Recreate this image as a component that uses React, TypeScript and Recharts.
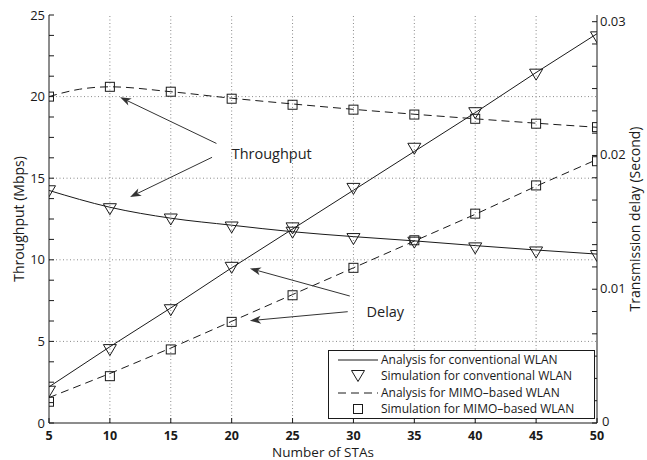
import React from 'react';
import { LineChart, Line, XAxis, YAxis, ReferenceLine, ReferenceDot, Legend } from 'recharts';

// ---- data ----
const stas = [5, 10, 15, 20, 25, 30, 35, 40, 45, 50];
const thrConvAnalysis = [14.25, 13.22, 12.55, 12.12, 11.72, 11.42, 11.16, 10.87, 10.6, 10.35];
const thrConvSim = [14.2, 13.1, 12.47, 11.98, 11.66, 11.27, 11.05, 10.7, 10.45, 10.23];
const thrMimoAnalysisX = [5, 7.5, 10, 15, 20, 25, 30, 35, 40, 45, 50];
const thrMimoAnalysis = [20.0, 20.45, 20.6, 20.3, 19.9, 19.55, 19.22, 18.92, 18.64, 18.37, 18.12];
const thrMimoSim = [20.0, 20.6, 20.3, 19.87, 19.5, 19.2, 18.9, 18.64, 18.34, 18.13];
const delayConvAnalysis = [0.0027, 0.0057, 0.0086, 0.0116, 0.0145, 0.0174, 0.0203, 0.0232, 0.0262, 0.0291];
const delayConvSim = [0.00234, 0.00545, 0.00843, 0.0116, 0.01455, 0.0175, 0.0205, 0.02316, 0.02604, 0.02883];
const delayMimoAnalysis = [0.0019, 0.0037, 0.0056, 0.0076, 0.0096, 0.0116, 0.0136, 0.0156, 0.0177, 0.0197];
const delayMimoSim = [0.00159, 0.0035, 0.0055, 0.00756, 0.00955, 0.0116, 0.01366, 0.01565, 0.01776, 0.01957];

const leftTicks = [0, 1.25, 2.5, 3.75, 5, 6.25, 7.5, 8.75, 10, 11.25, 12.5, 13.75, 15, 16.25, 17.5, 18.75, 20, 21.25, 22.5, 23.75, 25];
const leftMajorTicks = [0, 5, 10, 15, 20, 25];
const rightMajorTicks = [0, 0.01, 0.02, 0.03];
const rightTickLabels = ['0', '0.01', '0.02', '0.03'];
const rightMinorPerMajor = 6;
const rightTicks = Array.from({ length: 19 }, (_, k) => k * 0.01 / rightMinorPerMajor);
const gridX = [10, 15, 20, 25, 30, 35, 40, 45];
const gridY = [5, 10, 15, 20];

const legendLabels = [
  'Analysis for conventional WLAN',
  'Simulation for conventional WLAN',
  'Analysis for MIMO\u2013based WLAN',
  'Simulation for MIMO\u2013based WLAN',
];

// annotation arrows (data coords on left axis): [from, to]
const throughputArrows = [
  [{ x: 18.75, y: 17.13 }, { x: 10.84, y: 19.96 }],
  [{ x: 18.39, y: 16.28 }, { x: 11.66, y: 13.85 }],
];
const delayArrows = [
  [{ x: 29.7, y: 7.78 }, { x: 21.5, y: 9.47 }],
  [{ x: 29.53, y: 6.82 }, { x: 21.5, y: 6.27 }],
];
const throughputLabelPos = { x: 20.0, y: 16.5 };
const delayLabelPos = { x: 31.07, y: 6.82 };

const toPts = (xs: number[], ys: number[]) => xs.map((x, i) => ({ x, y: ys[i] }));

const INK = '#1a1a1a';
const FONT = '"Open Sans", "Noto Sans", sans-serif';

const Tri = ({ cx, cy }: any) => (
  <polygon
    points={`${cx - 6.5},${cy - 5.5} ${cx + 6.5},${cy - 5.5} ${cx},${cy + 5.5}`}
    fill="none"
    stroke={INK}
    strokeWidth={1}
  />
);
const Sq = ({ cx, cy }: any) => (
  <rect x={cx - 4.5} y={cy - 4.5} width={9} height={9} fill="none" stroke={INK} strokeWidth={1} />
);

const triDot = (p: any) => {
  if (p.cx == null || p.cy == null) return <g key={p.index} />;
  return <Tri key={p.index} cx={p.cx} cy={p.cy} />;
};
const sqDot = (p: any) => {
  if (p.cx == null || p.cy == null) return <g key={p.index} />;
  return <Sq key={p.index} cx={p.cx} cy={p.cy} />;
};

const Arrow = (p: any) => {
  const { x1, y1, x2, y2 } = p;
  if ([x1, y1, x2, y2].some((v) => v == null || isNaN(v))) return <g />;
  const dx = x2 - x1;
  const dy = y2 - y1;
  const L = Math.hypot(dx, dy) || 1;
  const ux = dx / L;
  const uy = dy / L;
  const nx = -uy;
  const ny = ux;
  const len = 11;
  const half = 4;
  const notch = 3;
  const bx = x2 - ux * len;
  const by = y2 - uy * len;
  const mx = x2 - ux * (len - notch);
  const my = y2 - uy * (len - notch);
  const pts = `${x2},${y2} ${bx + nx * half},${by + ny * half} ${mx},${my} ${bx - nx * half},${by - ny * half}`;
  return (
    <g>
      <line x1={x1} y1={y1} x2={mx} y2={my} stroke="#333" strokeWidth={1} />
      <polygon points={pts} fill="#333" stroke="none" />
    </g>
  );
};

const LeftTick = (p: any) => {
  const { x, y, payload } = p;
  const v = payload.value;
  const idx = leftMajorTicks.findIndex((m) => Math.abs(m - v) < 1e-6);
  return (
    <g>
      <line x1={x} y1={y} x2={x + 5} y2={y} stroke={INK} strokeWidth={1} />
      {idx >= 0 && (
        <text x={x - 4} y={y} dy={4.5} textAnchor="end" fontSize={13} fill={INK} fontFamily={FONT}>
          {String(leftMajorTicks[idx])}
        </text>
      )}
    </g>
  );
};

const RightTick = (p: any) => {
  const { x, y, payload } = p;
  const v = payload.value;
  const idx = rightMajorTicks.findIndex((m) => Math.abs(m - v) < 1e-9);
  return (
    <g>
      <line x1={x} y1={y} x2={x - 5} y2={y} stroke={INK} strokeWidth={1} />
      {idx >= 0 && (
        <text x={idx === 0 ? x + 5 : x + 3} y={y} dy={idx === 0 ? 2.5 : 4} textAnchor="start" fontSize={13} fill={INK} fontFamily={FONT}>
          {rightTickLabels[idx]}
        </text>
      )}
    </g>
  );
};

const BottomTick = (p: any) => {
  const { x, y, payload } = p;
  return (
    <g>
      <line x1={x} y1={y} x2={x} y2={y - 5} stroke={INK} strokeWidth={1} />
      <text x={x} y={y + 17} textAnchor="middle" fontSize={12.5} fontWeight="bold" fill={INK} fontFamily={FONT}>
        {String(payload.value)}
      </text>
    </g>
  );
};

const TopTick = (p: any) => {
  const { x, y } = p;
  return <line x1={x} y1={y} x2={x} y2={y + 5} stroke={INK} strokeWidth={1} />;
};

const LegendBox = () => {
  const rows = [
    { kind: 'solid', label: legendLabels[0] },
    { kind: 'tri', label: legendLabels[1] },
    { kind: 'dash', label: legendLabels[2] },
    { kind: 'sq', label: legendLabels[3] },
  ];
  return (
    <div
      style={{
        border: `1px solid ${INK}`,
        background: '#fff',
        width: 265,
        height: 66,
        boxSizing: 'content-box',
        fontFamily: FONT,
        fontSize: 12,
        color: INK,
        paddingTop: 1,
      }}
    >
      {rows.map((r, i) => (
        <div key={i} style={{ display: 'flex', alignItems: 'center', height: 16.3, lineHeight: '16px' }}>
          <svg width={52} height={16} style={{ flex: 'none' }}>
            {r.kind === 'solid' && <line x1={9} y1={8} x2={49} y2={8} stroke={INK} strokeWidth={1} />}
            {r.kind === 'dash' && (
              <line x1={9} y1={8} x2={49} y2={8} stroke={INK} strokeWidth={1} strokeDasharray="8 5" />
            )}
            {r.kind === 'tri' && <Tri cx={29} cy={8} />}
            {r.kind === 'sq' && <Sq cx={29} cy={8} />}
          </svg>
          <span style={{ whiteSpace: 'nowrap', marginLeft: 0 }}>{r.label}</span>
        </div>
      ))}
    </div>
  );
};

const leftTitle = (p: any) => {
  const vb = p && p.viewBox ? p.viewBox : { x: 0, y: 15, width: 49, height: 408 };
  const cx = vb.x + 18;
  const cy = vb.y + vb.height / 2;
  return (
    <text x={cx} y={cy} transform={`rotate(-90, ${cx}, ${cy})`} textAnchor="middle" dominantBaseline="central" fontSize={14} fill={INK} fontFamily={FONT}>
      Throughput (Mbps)
    </text>
  );
};
const rightTitle = (p: any) => {
  const vb = p && p.viewBox ? p.viewBox : { x: 597, y: 15, width: 50, height: 408 };
  const cx = vb.x + 37;
  const cy = vb.y + vb.height / 2;
  return (
    <text x={cx} y={cy} transform={`rotate(-90, ${cx}, ${cy})`} textAnchor="middle" dominantBaseline="central" fontSize={14} fill={INK} fontFamily={FONT}>
      Transmission delay (Second)
    </text>
  );
};
const bottomTitle = (p: any) => {
  const vb = p && p.viewBox ? p.viewBox : { x: 49, y: 423, width: 548, height: 37 };
  return (
    <text x={vb.x + vb.width / 2} y={vb.y + 34} textAnchor="middle" fontSize={13.5} fill={INK} fontFamily={FONT}>
      Number of STAs
    </text>
  );
};

export default function App() {
  return (
    <div style={{ position: 'absolute', left: 0, top: 0, background: '#fff', fontFamily: FONT }}>
      <LineChart width={647} height={460} margin={{ top: 15, right: 0, bottom: 0, left: 0 }}>
        <XAxis
          dataKey="x"
          type="number"
          domain={[5, 50]}
          ticks={stas}
          interval={0}
          height={37}
          tickSize={0}
          tickMargin={0}
          tickLine={false}
          tick={BottomTick}
          axisLine={{ stroke: INK, strokeWidth: 1 }}
          allowDataOverflow
          label={bottomTitle}
        />
        <XAxis
          xAxisId="top"
          orientation="top"
          dataKey="x"
          type="number"
          domain={[5, 50]}
          ticks={stas}
          interval={0}
          height={0}
          tickSize={0}
          tickMargin={0}
          tickLine={false}
          tick={TopTick}
          axisLine={{ stroke: INK, strokeWidth: 1 }}
          allowDataOverflow
        />
        <YAxis
          yAxisId="left"
          orientation="left"
          type="number"
          domain={[0, 25]}
          ticks={leftTicks}
          interval={0}
          width={49}
          tickSize={0}
          tickMargin={0}
          tickLine={false}
          tick={LeftTick}
          axisLine={{ stroke: INK, strokeWidth: 1 }}
          allowDataOverflow
          label={leftTitle}
        />
        <YAxis
          yAxisId="right"
          orientation="right"
          type="number"
          domain={[0, 0.0305]}
          ticks={rightTicks}
          interval={0}
          width={50}
          tickSize={0}
          tickMargin={0}
          tickLine={false}
          tick={RightTick}
          axisLine={{ stroke: INK, strokeWidth: 1 }}
          allowDataOverflow
          label={rightTitle}
        />

        {gridX.map((v) => (
          <ReferenceLine key={`gx${v}`} x={v} yAxisId="left" stroke="#8a8a8a" strokeWidth={1} strokeDasharray="1 2.5" />
        ))}
        {gridY.map((v) => (
          <ReferenceLine key={`gy${v}`} y={v} yAxisId="left" stroke="#8a8a8a" strokeWidth={1} strokeDasharray="1 2.5" />
        ))}

        <Line
          yAxisId="left"
          data={toPts(stas, thrConvAnalysis)}
          dataKey="y"
          type="monotone"
          stroke={INK}
          strokeWidth={1}
          dot={false}
          activeDot={false}
          isAnimationActive={false}
        />
        <Line
          yAxisId="left"
          data={toPts(stas, thrConvSim)}
          dataKey="y"
          stroke="none"
          dot={triDot}
          activeDot={false}
          isAnimationActive={false}
        />
        <Line
          yAxisId="left"
          data={toPts(thrMimoAnalysisX, thrMimoAnalysis)}
          dataKey="y"
          type="monotone"
          stroke={INK}
          strokeWidth={1}
          strokeDasharray="8 5"
          dot={false}
          activeDot={false}
          isAnimationActive={false}
        />
        <Line
          yAxisId="left"
          data={toPts(stas, thrMimoSim)}
          dataKey="y"
          stroke="none"
          dot={sqDot}
          activeDot={false}
          isAnimationActive={false}
        />
        <Line
          yAxisId="right"
          data={toPts(stas, delayConvAnalysis)}
          dataKey="y"
          type="linear"
          stroke={INK}
          strokeWidth={1}
          dot={false}
          activeDot={false}
          isAnimationActive={false}
        />
        <Line
          yAxisId="right"
          data={toPts(stas, delayConvSim)}
          dataKey="y"
          stroke="none"
          dot={triDot}
          activeDot={false}
          isAnimationActive={false}
        />
        <Line
          yAxisId="right"
          data={toPts(stas, delayMimoAnalysis)}
          dataKey="y"
          type="linear"
          stroke={INK}
          strokeWidth={1}
          strokeDasharray="8 5"
          dot={false}
          activeDot={false}
          isAnimationActive={false}
        />
        <Line
          yAxisId="right"
          data={toPts(stas, delayMimoSim)}
          dataKey="y"
          stroke="none"
          dot={sqDot}
          activeDot={false}
          isAnimationActive={false}
        />

        {[...throughputArrows, ...delayArrows].map((seg, i) => (
          <ReferenceLine key={`ar${i}`} yAxisId="left" segment={seg} shape={Arrow} ifOverflow="visible" />
        ))}
        <ReferenceDot
          yAxisId="left"
          x={throughputLabelPos.x}
          y={throughputLabelPos.y}
          r={0}
          ifOverflow="visible"
          shape={(p: any) => (
            <text x={p.cx} y={p.cy} dy={5} textAnchor="start" fontSize={14.5} fill="#222" fontFamily={FONT}>
              Throughput
            </text>
          )}
        />
        <ReferenceDot
          yAxisId="left"
          x={delayLabelPos.x}
          y={delayLabelPos.y}
          r={0}
          ifOverflow="visible"
          shape={(p: any) => (
            <text x={p.cx} y={p.cy} dy={5} textAnchor="start" fontSize={14.5} fill="#222" fontFamily={FONT}>
              Delay
            </text>
          )}
        />

        <Legend
          layout="vertical"
          align="center"
          verticalAlign="middle"
          content={() => <LegendBox />}
          wrapperStyle={{ left: 328, top: 350, width: 267, height: 68, bottom: 'auto', right: 'auto' }}
        />
      </LineChart>
    </div>
  );
}
